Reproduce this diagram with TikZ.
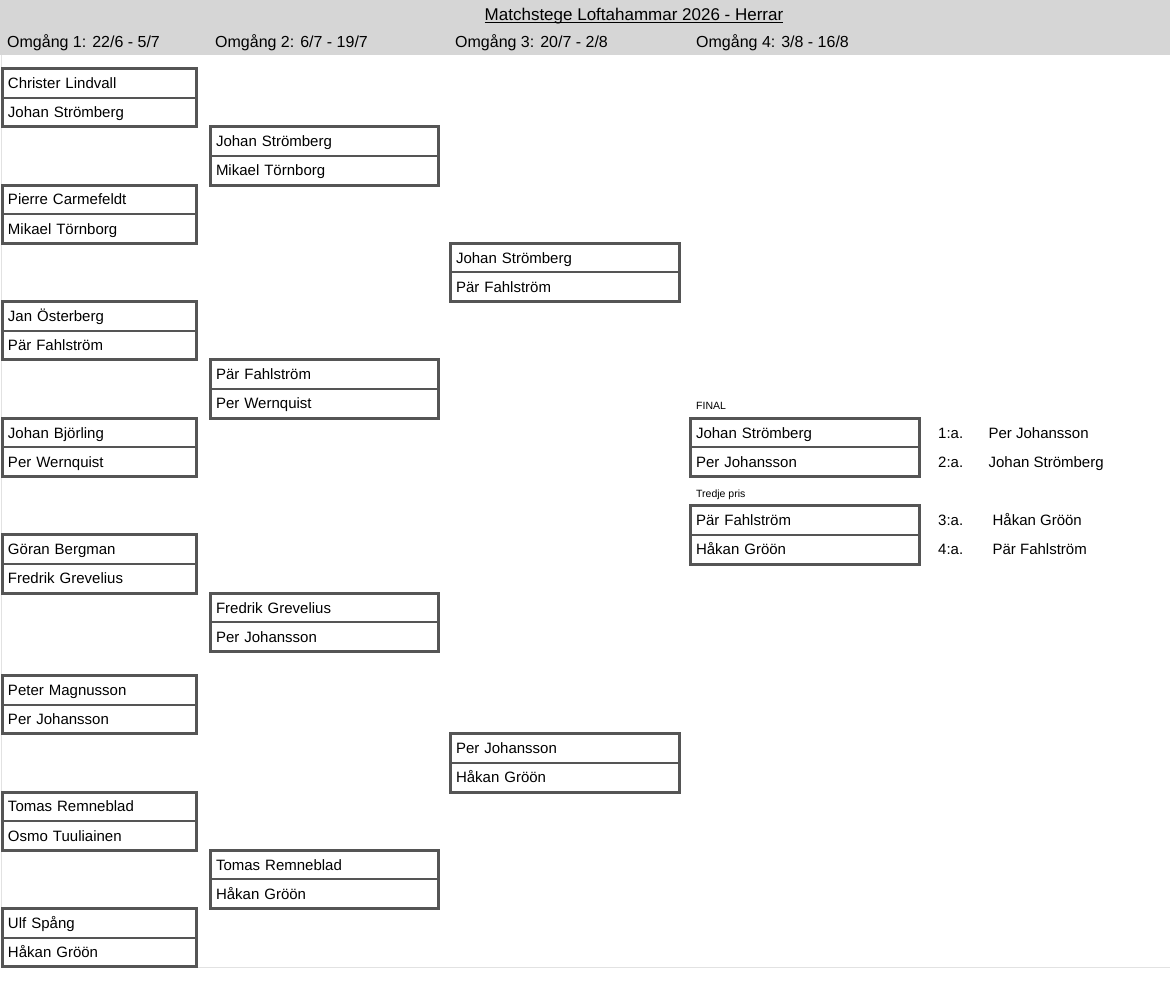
\documentclass[tikz,border=0pt]{standalone}
\usepackage{fontspec}
\setmainfont{Liberation Sans}
\usepackage{tikz}
\usetikzlibrary{positioning}
\definecolor{bandgray}{RGB}{214, 214, 214}
\definecolor{boxgray}{RGB}{85, 85, 85}
\definecolor{gridgray}{RGB}{226, 226, 226}

\tikzset{
    cell/.style={draw=boxgray, fill=white, line width=2pt, anchor=north west, outer sep=0pt,
        minimum height=29.15pt, inner xsep=6pt, inner ysep=0pt, text height=10.7pt, text depth=0pt,
        align=left, font=\fontsize{15}{18}\selectfont},
    col1/.style={cell, text width=182pt},
    col2/.style={cell, text width=216pt},
    col3/.style={cell, text width=217pt},
    frame/.style={draw=boxgray, line width=3pt},
    hdr/.style={anchor=base west, inner sep=0pt, font=\fontsize{16}{19}\selectfont},
    res/.style={anchor=west, inner sep=0pt, text height=10.7pt, text depth=0pt, font=\fontsize{15}{18}\selectfont},
    small/.style={anchor=base west, inner sep=0pt, font=\fontsize{10.5}{12}\selectfont}
}

\begin{document}
\begin{tikzpicture}[x=1pt, y=-1pt]
    \useasboundingbox (0,0) rectangle (1170,993);
    % header band
    \fill[bandgray] (0,0) rectangle (1170,54.5);
    \node[anchor=base, inner sep=0pt, font=\fontsize{17}{20}\selectfont] (title) at (634,20) {Matchstege Loftahammar 2026 - Herrar};
    \draw[line width=1pt] ([yshift=-2pt]title.base west) -- ([yshift=-2pt]title.base east);
    \node[hdr] (om1) at (7,47.7) {Omgång 1: 22/6 - 5/7};
    \node[hdr] (om2) at (215,47.7) {Omgång 2: 6/7 - 19/7};
    \node[hdr] (om3) at (455,47.7) {Omgång 3: 20/7 - 2/8};
    \node[hdr] (om4) at (696,47.7) {Omgång 4: 3/8 - 16/8};
    \draw[gridgray, line width=1pt] (1.5,54.5) -- (1.5,967) -- (1170,967);

    % omgang 1
    \node[col1] (r1m1a) at (2,68.4) {Christer Lindvall};
    \node[col1, below=0pt of r1m1a] (r1m1b) {Johan Strömberg};
    \node[col1] (r1m2a) at (2,185.0) {Pierre Carmefeldt};
    \node[col1, below=0pt of r1m2a] (r1m2b) {Mikael Törnborg};
    \node[col1] (r1m3a) at (2,301.6) {Jan Österberg};
    \node[col1, below=0pt of r1m3a] (r1m3b) {Pär Fahlström};
    \node[col1] (r1m4a) at (2,418.2) {Johan Björling};
    \node[col1, below=0pt of r1m4a] (r1m4b) {Per Wernquist};
    \node[col1] (r1m5a) at (2,534.8) {Göran Bergman};
    \node[col1, below=0pt of r1m5a] (r1m5b) {Fredrik Grevelius};
    \node[col1] (r1m6a) at (2,675.4) {Peter Magnusson};
    \node[col1, below=0pt of r1m6a] (r1m6b) {Per Johansson};
    \node[col1] (r1m7a) at (2,792.0) {Tomas Remneblad};
    \node[col1, below=0pt of r1m7a] (r1m7b) {Osmo Tuuliainen};
    \node[col1] (r1m8a) at (2,908.6) {Ulf Spång};
    \node[col1, below=0pt of r1m8a] (r1m8b) {Håkan Gröön};

    % omgang 2
    \node[col2] (r2m1a) at (210,126.7) {Johan Strömberg};
    \node[col2, below=0pt of r2m1a] (r2m1b) {Mikael Törnborg};
    \node[col2] (r2m2a) at (210,359.9) {Pär Fahlström};
    \node[col2, below=0pt of r2m2a] (r2m2b) {Per Wernquist};
    \node[col2] (r2m3a) at (210,593.1) {Fredrik Grevelius};
    \node[col2, below=0pt of r2m3a] (r2m3b) {Per Johansson};
    \node[col2] (r2m4a) at (210,850.3) {Tomas Remneblad};
    \node[col2, below=0pt of r2m4a] (r2m4b) {Håkan Gröön};

    % omgang 3
    \node[col3] (r3m1a) at (450,243.3) {Johan Strömberg};
    \node[col3, below=0pt of r3m1a] (r3m1b) {Pär Fahlström};
    \node[col3] (r3m2a) at (450,733.7) {Per Johansson};
    \node[col3, below=0pt of r3m2a] (r3m2b) {Håkan Gröön};

    % omgang 4
    \node[small] (lfinal) at (696,409.5) {FINAL};
    \node[col3] (fina) at (690,418.2) {Johan Strömberg};
    \node[col3, below=0pt of fina] (finb) {Per Johansson};
    \node[small] (ltredje) at (696,497) {Tredje pris};
    \node[col3] (tria) at (690,505.7) {Pär Fahlström};
    \node[col3, below=0pt of tria] (trib) {Håkan Gröön};

    % frames
    \foreach \m in {r1m1,r1m2,r1m3,r1m4,r1m5,r1m6,r1m7,r1m8,r2m1,r2m2,r2m3,r2m4,r3m1,r3m2,fin,tri}
        \draw[frame] (\m a.north west) rectangle (\m b.south east);

    % placering
    \node[res, right=19pt of fina] (pl1) {1:a.};
    \node[res, right=25pt of pl1] (pn1) {Per Johansson};
    \node[res, right=19pt of finb] (pl2) {2:a.};
    \node[res, right=25pt of pl2] (pn2) {Johan Strömberg};
    \node[res, right=19pt of tria] (pl3) {3:a.};
    \node[res, right=29pt of pl3] (pn3) {Håkan Gröön};
    \node[res, right=19pt of trib] (pl4) {4:a.};
    \node[res, right=29pt of pl4] (pn4) {Pär Fahlström};
\end{tikzpicture}
\end{document}
